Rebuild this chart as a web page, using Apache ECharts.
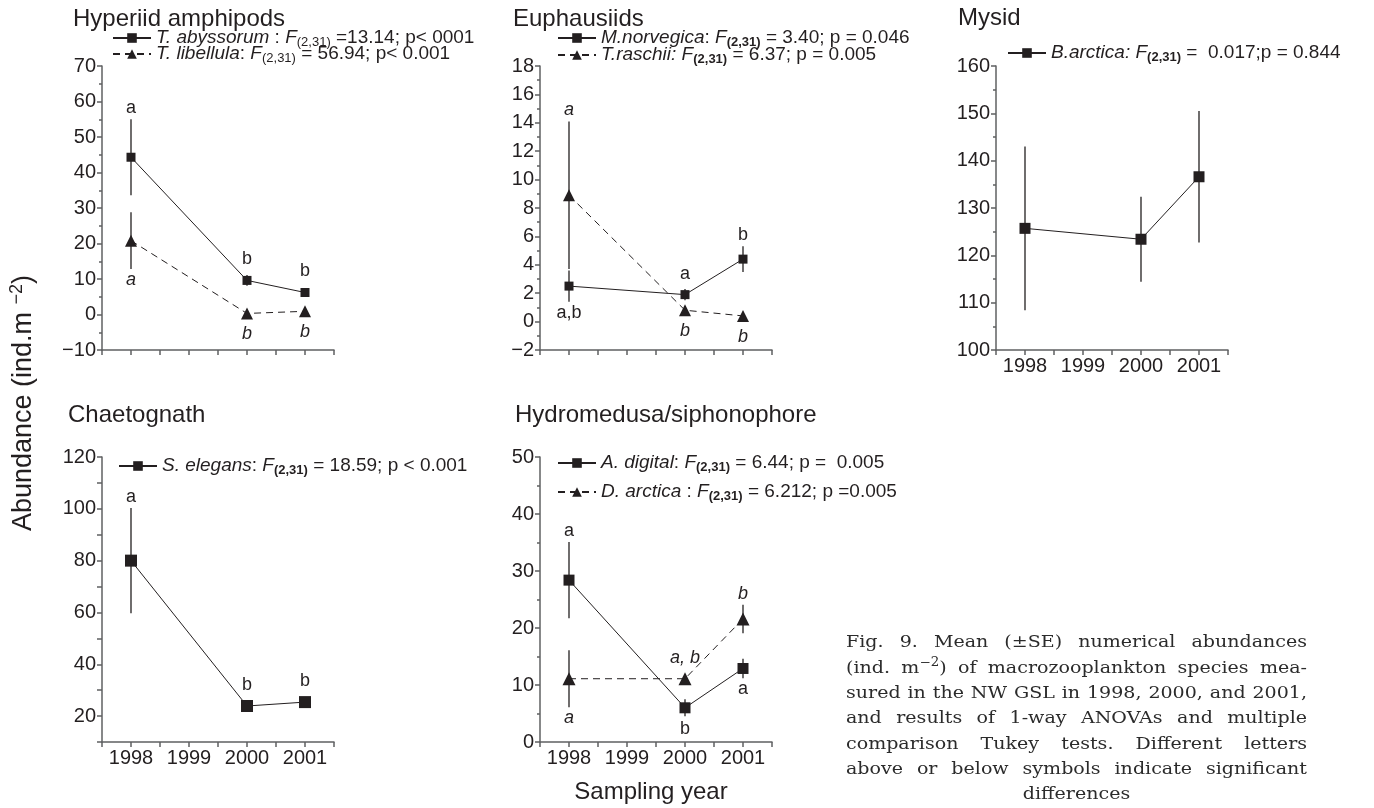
<!DOCTYPE html>
<html>
<head>
<meta charset="utf-8">
<title>Macrozooplankton abundances</title>
<script src="https://cdn.jsdelivr.net/npm/echarts@6/dist/echarts.min.js"></script>
<style>
  html, body { margin: 0; padding: 0; background: #fff; }
  #main { width: 1374px; height: 808px; }
</style>
</head>
<body>
<div id="main"></div>
<script>
// sampling years (x) for every panel
const years = [1998, 2000, 2001]

// Hyperiid amphipods
const abyssorum = [44.3, 9.6, 6.2]
const abyssorumSE = [10.7, 1.5, 0.8]
const abyssorumTukey = ['a', 'b', 'b']
const abyssorumSide = ['up', 'up', 'up']
const libellula = [20.8, 0.3, 0.9]
const libellulaSE = [8.0, 1.0, 0.8]
const libellulaTukey = ['a', 'b', 'b']
const libellulaSide = ['down', 'down', 'down']

// Euphausiids
const norvegica = [2.5, 1.9, 4.4]
const norvegicaSE = [1.1, 0.4, 0.9]
const norvegicaTukey = ['a,b', 'a', 'b']
const norvegicaSide = ['down', 'up', 'up']
const raschii = [8.9, 0.8, 0.4]
const raschiiSE = [5.2, 0.3, 0.3]
const raschiiTukey = ['a', 'b', 'b']
const raschiiSide = ['up', 'down', 'down']

// Mysid
const barctica = [125.7, 123.4, 136.6]
const barcticaSE = [17.3, 9.0, 13.9]

// Chaetognath
const elegans = [80.0, 23.9, 25.4]
const elegansSE = [20.3, 1.5, 1.2]
const elegansTukey = ['a', 'b', 'b']
const elegansSide = ['up', 'up', 'up']

// Hydromedusa/siphonophore
const digital = [28.4, 6.0, 12.9]
const digitalSE = [6.7, 1.5, 1.7]
const digitalTukey = ['a', 'b', 'a']
const digitalSide = ['up', 'down', 'down']
const darctica = [11.1, 11.1, 21.6]
const darcticaSE = [5.0, 0.5, 2.5]
const darcticaTukey = ['a', 'a, b', 'b']
const darcticaSide = ['down', 'up', 'up']

const panelTitles = ['Hyperiid amphipods', 'Euphausiids', 'Mysid', 'Chaetognath', 'Hydromedusa/siphonophore']

const captionLines = [
  'Fig. 9. Mean (±SE) numerical abundances',
  '(ind. m−2) of macrozooplankton species mea-',
  'sured in the NW GSL in 1998, 2000, and 2001,',
  'and results of 1-way ANOVAs and multiple',
  'comparison Tukey tests. Different letters',
  'above or below symbols indicate significant',
  'differences'
]

const INK = '#231f20'
const AXIS = '#5f6062'
const SANS = '"Liberation Sans", Arial, Helvetica, sans-serif'
const SERIF = '"DejaVu Serif", "Liberation Serif", serif'

// layout of the five panels
const panels = [
  { grid: { left: 102, top: 66, width: 232, height: 284 }, y: { min: -10, max: 70, interval: 10, minor: true }, xLabels: false, title: [73, 19] },
  { grid: { left: 540, top: 66, width: 232, height: 284 }, y: { min: -2, max: 18, interval: 2, minor: true }, xLabels: false, title: [513, 19] },
  { grid: { left: 996, top: 66, width: 232, height: 284 }, y: { min: 100, max: 160, interval: 10, minor: true }, xLabels: true, title: [958, 18] },
  { grid: { left: 102, top: 457, width: 232, height: 285 }, y: { min: 10, max: 120, interval: 10, minor: false, every: 20 }, xLabels: true, title: [68, 415] },
  { grid: { left: 540, top: 457, width: 232, height: 285 }, y: { min: 0, max: 50, interval: 10, minor: true }, xLabels: true, title: [515, 415] }
]

const seriesDefs = [
  { name: 'T. abyssorum', panel: 0, values: abyssorum, se: abyssorumSE, tukey: abyssorumTukey, side: abyssorumSide, symbol: 'rect', size: 9, dashed: false,
    legend: [112, 38], label: '{i|T. abyssorum}{t| : }{i|F}{s|(2,31)}{t| =13.14; p< 0001}' },
  { name: 'T. libellula', panel: 0, values: libellula, se: libellulaSE, tukey: libellulaTukey, side: libellulaSide, symbol: 'triangle', size: 12, dashed: true,
    legend: [112, 54], label: '{i|T. libellula}{t|: }{i|F}{s|(2,31)}{t| = 56.94; p< 0.001}' },
  { name: 'M.norvegica', panel: 1, values: norvegica, se: norvegicaSE, tukey: norvegicaTukey, side: norvegicaSide, symbol: 'rect', size: 9, dashed: false,
    legend: [557, 38], label: '{i|M.norvegica}{t|: }{i|F}{sb|(2,31)}{t| = 3.40; p = 0.046}' },
  { name: 'T.raschii', panel: 1, values: raschii, se: raschiiSE, tukey: raschiiTukey, side: raschiiSide, symbol: 'triangle', size: 12, dashed: true,
    legend: [557, 55], label: '{i|T.raschii: F}{sb|(2,31)}{t| = 6.37; p = 0.005}' },
  { name: 'B.arctica', panel: 2, values: barctica, se: barcticaSE, tukey: null, side: null, symbol: 'rect', size: 11, dashed: false,
    legend: [1007, 53], label: '{i|B.arctica: F}{sb|(2,31)}{t| =  0.017;p = 0.844}' },
  { name: 'S. elegans', panel: 3, values: elegans, se: elegansSE, tukey: elegansTukey, side: elegansSide, symbol: 'rect', size: 12, dashed: false,
    legend: [118, 466], label: '{i|S. elegans}{t|: }{i|F}{sb|(2,31)}{t| = 18.59; p < 0.001}' },
  { name: 'A. digital', panel: 4, values: digital, se: digitalSE, tukey: digitalTukey, side: digitalSide, symbol: 'rect', size: 11, dashed: false,
    legend: [557, 463], label: '{i|A. digital}{t|: }{i|F}{sb|(2,31)}{t| = 6.44; p =  0.005}' },
  { name: 'D. arctica', panel: 4, values: darctica, se: darcticaSE, tukey: darcticaTukey, side: darcticaSide, symbol: 'triangle', size: 13, dashed: true,
    legend: [557, 492], label: '{i|D. arctica}{t| : }{i|F}{sb|(2,31)}{t| = 6.212; p =0.005}' }
]

function isWhole(v, step) {
  const r = v / step
  return Math.abs(r - Math.round(r)) < 1e-6
}

function minusSign(v) {
  return v < 0 ? '\u2212' + Math.abs(v) : String(v)
}

const axisLineStyle = { color: AXIS, width: 1.5 }

const xAxes = panels.map((p, i) => ({
  gridIndex: i,
  type: 'value',
  min: 1997.5,
  max: 2001.5,
  interval: 0.5,
  axisLine: { show: true, onZero: false, lineStyle: axisLineStyle },
  axisTick: { show: true, length: 5, lineStyle: axisLineStyle },
  splitLine: { show: false },
  axisLabel: {
    show: p.xLabels,
    margin: 6,
    color: INK,
    fontFamily: SANS,
    fontSize: 20,
    formatter: v => isWhole(v, 1) ? String(Math.round(v)) : ''
  }
}))

const yAxes = panels.map((p, i) => ({
  gridIndex: i,
  type: 'value',
  min: p.y.min,
  max: p.y.max,
  interval: p.y.interval,
  axisLine: { show: true, onZero: false, lineStyle: axisLineStyle },
  axisTick: { show: true, length: 5, lineStyle: axisLineStyle },
  minorTick: { show: p.y.minor, splitNumber: 2, length: 3, lineStyle: axisLineStyle },
  splitLine: { show: false },
  minorSplitLine: { show: false },
  axisLabel: {
    margin: 6,
    color: INK,
    fontFamily: SANS,
    fontSize: 20,
    formatter: v => {
      if (p.y.every && (!isWhole(v, p.y.every) || v === 0)) return ''
      return minusSign(Math.round(v * 100) / 100)
    }
  }
}))

const series = []
seriesDefs.forEach(d => {
  // mean values
  series.push({
    type: 'line',
    name: d.name,
    xAxisIndex: d.panel,
    yAxisIndex: d.panel,
    data: years.map((yr, k) => [yr, d.values[k]]),
    symbol: d.symbol,
    symbolSize: d.size,
    showAllSymbol: true,
    itemStyle: { color: INK },
    lineStyle: { color: INK, width: 1, type: d.dashed ? [7, 5] : 'solid' },
    emphasis: { disabled: true },
    z: 4
  })
  // SE bars plus Tukey letters
  series.push({
    type: 'custom',
    xAxisIndex: d.panel,
    yAxisIndex: d.panel,
    silent: true,
    z: 3,
    data: years.map((yr, k) => [yr, d.values[k], d.se[k], k]),
    renderItem(params, api) {
      const x = api.value(0)
      const v = api.value(1)
      const e = api.value(2)
      const k = api.value(3)
      const c = api.coord([x, v])
      const hi = api.coord([x, v + e])
      const lo = api.coord([x, v - e])
      const children = [{
        type: 'line',
        shape: { x1: hi[0], y1: hi[1], x2: lo[0], y2: lo[1] },
        style: { stroke: INK, lineWidth: 1.3 }
      }]
      if (d.tukey) {
        const reach = Math.max(Math.abs(c[1] - hi[1]), 10) + 11
        const up = d.side[k] === 'up'
        children.push({
          type: 'text',
          x: c[0],
          y: up ? c[1] - reach : c[1] + reach,
          style: {
            text: d.tukey[k],
            fill: INK,
            fontFamily: SANS,
            fontSize: 18,
            fontStyle: d.dashed ? 'italic' : 'normal',
            align: 'center',
            verticalAlign: 'middle'
          }
        })
      }
      return { type: 'group', children }
    }
  })
})

const legendRich = {
  t: { fontFamily: SANS, fontSize: 19, color: INK, lineHeight: 22 },
  i: { fontFamily: SANS, fontSize: 19, color: INK, lineHeight: 22, fontStyle: 'italic' },
  s: { fontFamily: SANS, fontSize: 13, color: INK, lineHeight: 12, verticalAlign: 'bottom' },
  sb: { fontFamily: SANS, fontSize: 13, color: INK, lineHeight: 12, verticalAlign: 'bottom', fontWeight: 'bold' }
}

const legends = seriesDefs.map(d => ({
  data: [d.name],
  left: d.legend[0],
  top: d.legend[1] - 11,
  padding: 0,
  itemGap: 0,
  itemWidth: 38,
  itemHeight: 12,
  selectedMode: false,
  formatter: () => d.label,
  textStyle: { fontFamily: SANS, fontSize: 19, color: INK, lineHeight: 22, rich: legendRich }
}))

// caption, justified like the printed figure legend
const measure = document.createElement('canvas').getContext('2d')
const capStretch = 1.12
function widthOf(str, size) {
  measure.font = size + 'px ' + SERIF
  return measure.measureText(str).width * capStretch
}
const capLeft = 846
const capRight = 1307
const capTop = 643
const capStep = 25.3
const capSize = 17
const captionGraphics = []
captionLines.forEach((line, li) => {
  const y = capTop + li * capStep
  const words = line.split(' ')
  const pieces = words.map(w => {
    if (w.indexOf('−2') >= 0) {
      const parts = w.split('−2')
      return {
        text: '{c|' + parts[0] + '}{u|−2}{c|' + parts[1] + '}',
        w: widthOf(parts[0] + parts[1], capSize) + widthOf('−2', 12)
      }
    }
    return { text: '{c|' + w + '}', w: widthOf(w, capSize) }
  })
  const total = pieces.reduce((s, p) => s + p.w, 0)
  let x, gap
  if (li === captionLines.length - 1) {
    gap = widthOf(' ', capSize)
    x = (capLeft + capRight) / 2 - (total + gap * (pieces.length - 1)) / 2
  } else {
    gap = (capRight - capLeft - total) / (pieces.length - 1)
    x = capLeft
  }
  pieces.forEach(p => {
    captionGraphics.push({
      type: 'text',
      x: x,
      y: y,
      scaleX: capStretch,
      silent: true,
      style: {
        text: p.text,
        verticalAlign: 'middle',
        rich: {
          c: { fontFamily: SERIF, fontSize: capSize, fill: '#2b2b2b', lineHeight: 22 },
          u: { fontFamily: SERIF, fontSize: 12, fill: '#2b2b2b', lineHeight: 12, verticalAlign: 'top' }
        }
      }
    })
    x += p.w + gap
  })
})

const titleGraphics = panels.map((p, i) => ({
  type: 'text',
  x: p.title[0],
  y: p.title[1],
  silent: true,
  style: { text: panelTitles[i], fill: INK, fontFamily: SANS, fontSize: 24, verticalAlign: 'middle' }
}))

const axisNameGraphics = [
  {
    type: 'text',
    x: 24,
    y: 403,
    rotation: Math.PI / 2,
    silent: true,
    style: {
      text: '{n|Abundance (ind.m }{u|\u22122}{n|)}',
      align: 'center',
      verticalAlign: 'middle',
      rich: {
        n: { fontFamily: SANS, fontSize: 27, fill: INK, lineHeight: 32 },
        u: { fontFamily: SANS, fontSize: 18, fill: INK, lineHeight: 18, verticalAlign: 'top' }
      }
    }
  },
  {
    type: 'text',
    x: 651,
    y: 792,
    silent: true,
    style: { text: 'Sampling year', fill: INK, fontFamily: SANS, fontSize: 24, align: 'center', verticalAlign: 'middle' }
  }
]

const chart = echarts.init(document.getElementById('main'), null, { renderer: 'canvas' })
chart.setOption({
  backgroundColor: '#fff',
  animation: false,
  grid: panels.map(p => Object.assign({ containLabel: false }, p.grid)),
  xAxis: xAxes,
  yAxis: yAxes,
  legend: legends,
  series: series,
  graphic: titleGraphics.concat(axisNameGraphics, captionGraphics)
})
</script>
</body>
</html>
